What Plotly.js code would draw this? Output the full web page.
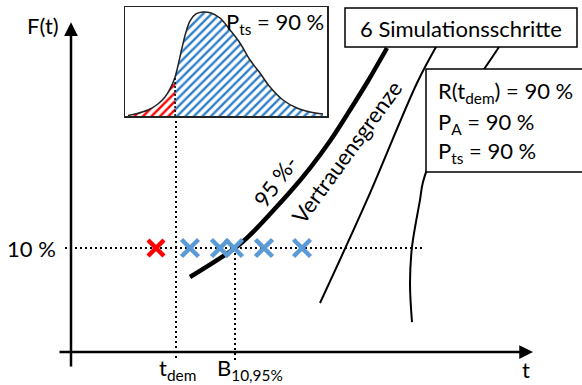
<!DOCTYPE html>
<html>
<head>
<meta charset="utf-8">
<script src="https://cdn.plot.ly/plotly-3.0.1.min.js"></script>
<style>
  html, body { margin: 0; padding: 0; background: #fff; }
  #chart { width: 582px; height: 385px; }
</style>
</head>
<body>
<div id="chart"></div>
<script>
// ---- Data (t in time units, F in percent) ----
// Simulated failure times at the 10 % level
const failRed = [8.5];                          // below t_dem
const failBlue = [11.9, 14.9, 16.3, 19.3, 23.1]; // above t_dem
const failLevel = 10;

const tDem = 10.5;      // demonstration time
const b10 = 16.4;       // B10 life at 95 % confidence

// 95 % confidence bound
const boundT = [11.9, 16.4, 17.9, 19.9, 21.9, 23.9, 25.9, 27.9, 29.7, 31.6];
const boundF = [7.21, 10.0, 11.25, 13.27, 15.38, 17.69, 20.29, 23.27, 26.06, 29.23];

// further simulated lifetime lines
const line1T = [24.9, 29.6, 34.6, 36.5];
const line1F = [4.71, 14.62, 25.87, 29.33];
const line2T = [34.1, 33.9, 34.1, 34.9, 35.2, 36.4, 38.1, 40.1, 42.2, 42.8];
const line2F = [2.88, 6.63, 10.1, 14.62, 16.35, 19.42, 22.5, 25.48, 28.46, 29.33];

// inset: distribution of the test statistic
const pdfT = [1.5, 5.0, 11.4, 16.3, 19.8, 22.3, 24.8, 26.2, 28.2, 30.2, 32.2, 35.1, 38.6, 42.6, 47.0, 52.0, 56.9, 61.9, 66.8, 71.8, 78.2, 85.1, 91.6, 98.0];
const pdfF = [0.5, 1.8, 5.5, 11.0, 17.4, 24.8, 35.8, 45.9, 62.4, 77.1, 87.2, 93.6, 95.4, 94.5, 89.9, 78.9, 67.0, 51.4, 39.4, 26.6, 14.7, 7.3, 3.7, 1.8];
const pdfSplit = 24.8;

const axisTop = 31.7, axisBottom = -1.54, axisLeft = -1.3, axisRight = 46.2;
const insetBottomF = 22.69;
const dotLeft = -0.6, dotRight = 35.1;

const FONT = 'Lato, Carlito, "Open Sans", sans-serif';
const BLUE = '#5b9bd5';
const RED = '#ff0000';

const redPart = pdfT.map((t, i) => [t, pdfF[i]]).filter(p => p[0] <= pdfSplit);
const bluePart = pdfT.map((t, i) => [t, pdfF[i]]).filter(p => p[0] >= pdfSplit);

const dotStyle = { color: '#000', width: 2, dash: '2px,3px' };

const traces = [
  // reference dotted lines
  { x: [dotLeft, dotRight], y: [failLevel, failLevel], mode: 'lines', line: dotStyle, hoverinfo: 'skip' },
  { x: [tDem, tDem], y: [insetBottomF, axisBottom + 0.75], mode: 'lines', line: dotStyle, hoverinfo: 'skip' },
  { x: [b10, b10], y: [failLevel, axisBottom + 0.75], mode: 'lines', line: dotStyle, hoverinfo: 'skip' },
  // lifetime lines
  { x: line1T, y: line1F, mode: 'lines', line: { color: '#000', width: 2, shape: 'spline' }, hoverinfo: 'skip' },
  { x: line2T, y: line2F, mode: 'lines', line: { color: '#000', width: 2, shape: 'spline' }, hoverinfo: 'skip' },
  // confidence bound
  { x: boundT, y: boundF, mode: 'lines', line: { color: '#000', width: 4.5, shape: 'spline' }, hoverinfo: 'skip' },
  // simulated failures
  { x: failBlue, y: failBlue.map(() => failLevel), mode: 'markers',
    marker: { symbol: 'x-thin', size: 17, line: { color: BLUE, width: 4.5 } }, hoverinfo: 'skip' },
  { x: failRed, y: failRed.map(() => failLevel), mode: 'markers',
    marker: { symbol: 'x-thin', size: 16, line: { color: RED, width: 4.5 } }, hoverinfo: 'skip' },
  // inset distribution
  { x: redPart.map(p => p[0]), y: redPart.map(p => p[1]), xaxis: 'x2', yaxis: 'y2',
    mode: 'lines', line: { width: 0, shape: 'spline' }, fill: 'tozeroy',
    fillpattern: { shape: '/', fgcolor: RED, bgcolor: '#fff', size: 6, solidity: 0.4 }, hoverinfo: 'skip' },
  { x: bluePart.map(p => p[0]), y: bluePart.map(p => p[1]), xaxis: 'x2', yaxis: 'y2',
    mode: 'lines', line: { width: 0, shape: 'spline' }, fill: 'tozeroy',
    fillpattern: { shape: '/', fgcolor: '#2e7fc8', bgcolor: '#fff', size: 6, solidity: 0.4 }, hoverinfo: 'skip' },
  { x: pdfT, y: pdfF, xaxis: 'x2', yaxis: 'y2', mode: 'lines',
    line: { color: '#222', width: 1.5, shape: 'spline' }, hoverinfo: 'skip' },
  { x: [pdfSplit, pdfSplit], y: [0, 36], xaxis: 'x2', yaxis: 'y2', mode: 'lines',
    line: { color: '#000', width: 1.5, dash: '2px,2px' }, hoverinfo: 'skip' }
];

const txt = (text, x, y, size, extra) => Object.assign({
  text, x, y, xref: 'x', yref: 'y', showarrow: false,
  font: { family: FONT, size, color: '#000' }
}, extra || {});

const arrow = (x, y, ax, ay) => ({
  x, y, ax, ay, xref: 'x', yref: 'y', axref: 'x', ayref: 'y', text: '',
  showarrow: true, arrowhead: 2, arrowsize: 1.1, arrowwidth: 2.5, arrowcolor: '#000'
});

const layout = {
  width: 582, height: 385, autosize: false,
  margin: { l: 0, r: 0, t: 0, b: 0, pad: 0 },
  paper_bgcolor: '#fff', plot_bgcolor: '#fff',
  showlegend: false,
  xaxis: { range: [-7.1, 51.1], visible: false, fixedrange: true },
  yaxis: { range: [-3.173, 33.846], visible: false, fixedrange: true },
  xaxis2: { domain: [125 / 582, 327 / 582], anchor: 'y2', range: [0, 100],
    showline: true, mirror: true, linecolor: '#222', linewidth: 1.5,
    showgrid: false, zeroline: false, showticklabels: false, ticks: '' },
  yaxis2: { domain: [1 - 116 / 385, 1 - 7 / 385], anchor: 'x2', range: [0, 100],
    showline: true, mirror: true, linecolor: '#222', linewidth: 1.5,
    showgrid: false, zeroline: false, showticklabels: false, ticks: '' },
  shapes: [
    { type: 'rect', xref: 'x', yref: 'y', x0: 27.4, x1: 50.6, y0: 29.33, y1: 33.08,
      line: { color: '#000', width: 1.5 }, fillcolor: '#fff', layer: 'above' },
    { type: 'rect', xref: 'x', yref: 'y', x0: 35.5, x1: 52, y0: 17.31, y1: 27.21,
      line: { color: '#000', width: 1.5 }, fillcolor: '#fff', layer: 'above' }
  ],
  annotations: [
    arrow(0, axisTop, 0, axisBottom),
    arrow(axisRight, 0, axisLeft, 0),
    txt('F(t)', -2.85, 31.44, 22),
    txt('10 %', -4.0, 10, 22),
    txt('t', 45.5, -1.73, 22),
    txt('t<sub>dem</sub>', 10.6, -1.6, 22),
    txt('B<sub>10,95%</sub>', 17.9, -1.6, 22),
    txt('P<sub>ts</sub> = 90 %', 20.4, 31.6, 22),
    txt('6 Simulationsschritte', 39.0, 31.15, 22),
    txt('R(t<sub>dem</sub>) = 90 %', 36.5, 25.0, 22, { xanchor: 'left' }),
    txt('P<sub>A</sub> = 90 %', 36.5, 22.0, 22, { xanchor: 'left' }),
    txt('P<sub>ts</sub> = 90 %', 36.5, 19.2, 22, { xanchor: 'left' }),
    txt('95 %-', 20.4, 16.4, 22, { textangle: -54 }),
    txt('Vertrauensgrenze', 27.5, 19.2, 22, { textangle: -54 })
  ]
};

Plotly.newPlot('chart', traces, layout, { staticPlot: true, displayModeBar: false });
</script>
</body>
</html>
